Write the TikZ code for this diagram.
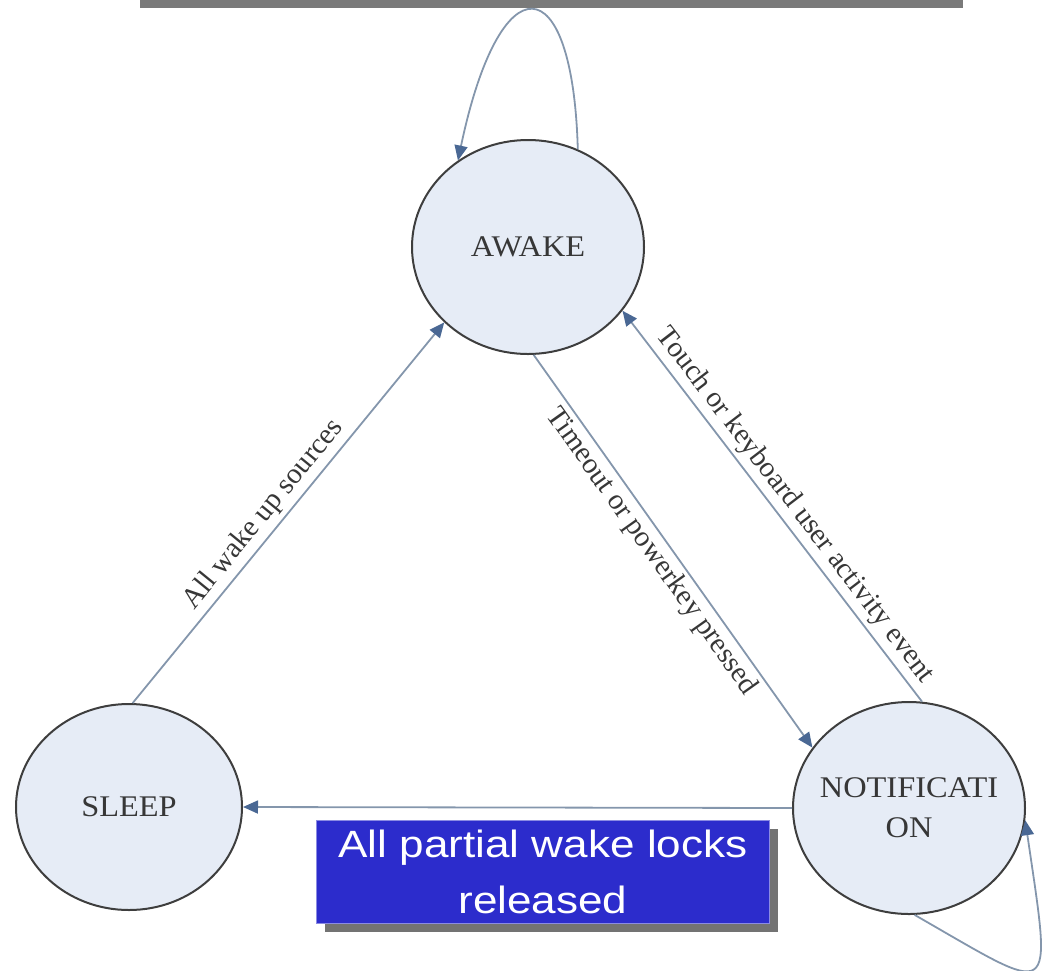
\documentclass[tikz,border=0pt]{standalone}
\usepackage{fontspec}
\setmainfont{Liberation Serif}
\newfontfamily\statefont[FakeStretch=1.08]{Liberation Serif}
\newfontfamily\bannerfont[FakeStretch=1.16]{Liberation Sans}
\usepackage{tikz}
\usetikzlibrary{arrows.meta, shapes.geometric, shadows}

\definecolor{statefill}{RGB}{230,236,246}
\definecolor{stateline}{RGB}{62,62,62}
\definecolor{edgeline}{RGB}{132,150,172}
\definecolor{tipblue}{RGB}{74,104,148}
\definecolor{boxblue}{RGB}{44,44,204}
\definecolor{textgray}{RGB}{55,55,55}

\begin{document}
\begin{tikzpicture}[x=1pt, y=-1pt,
  state/.style={ellipse, draw=stateline, line width=2pt, fill=statefill,
    text=textgray, font=\statefont\fontsize{30}{40}\selectfont,
    align=center, inner sep=0pt},
  %
  trans/.style={draw=edgeline, line width=1.8pt,
    -{Triangle[length=15pt, width=13pt, color=tipblue]}},
  %
  lbl/.style={sloped, text=textgray, inner sep=4pt,
    font=\fontsize{29}{34}\selectfont},
  %
  banner/.style={rectangle, fill=boxblue, draw=boxblue!55!white,
    line width=1pt, text=white, align=center,
    font=\bannerfont\fontsize{38}{56}\selectfont,
    minimum width=453pt, minimum height=103pt, inner sep=0pt,
    drop shadow={shadow xshift=8pt, shadow yshift=-8pt,
      fill=black!55, opacity=1}}
  ]

  \useasboundingbox (0,0) rectangle (1047,970);

  % cut-off edge at the top
  \fill[black!52] (140,0) rectangle (963,8);

  \begin{scope}
    %%%%%%%%%%%%%%%%%%%%%%%%%%%%%%%
    \node [state, minimum width=232pt, minimum height=214pt]
      (awake) at (528,247) {AWAKE};
    \node [state, minimum width=226pt, minimum height=206pt]
      (sleep) at (129,807) {SLEEP};
    \node [state, minimum width=232pt, minimum height=212pt,
      inner xsep=-30pt] (notif) at (909,808) {NOTIFICATI\\ON};
    %%%%%%%%%%%%%%%%%%%%%%%%%%%%%%%
    \node [banner] (locks) at (543,872)
      {All partial wake locks\\released};
  \end{scope}

  \begin{scope}
    \draw [trans] (sleep.88) -- (awake.222)
      node [lbl, above, pos=0.465] {All wake up sources};
    \draw [trans] (awake.273) -- (notif.148)
      node [lbl, below, pos=0.474] {Timeout or powerkey pressed};
    \draw [trans] (notif.83) -- (awake.326)
      node [lbl, above, pos=0.473] {Touch or keyboard user activity event};
    \draw [trans] (notif.west) -- (sleep.east);
    % self loops
    \draw [trans] (awake.63) .. controls +(-5,-185) and +(42,-200) .. (awake.129);
    \draw [trans] (notif.273) .. controls +(143,82) and +(27,185) .. (notif.354);
  \end{scope}

\end{tikzpicture}
\end{document}
